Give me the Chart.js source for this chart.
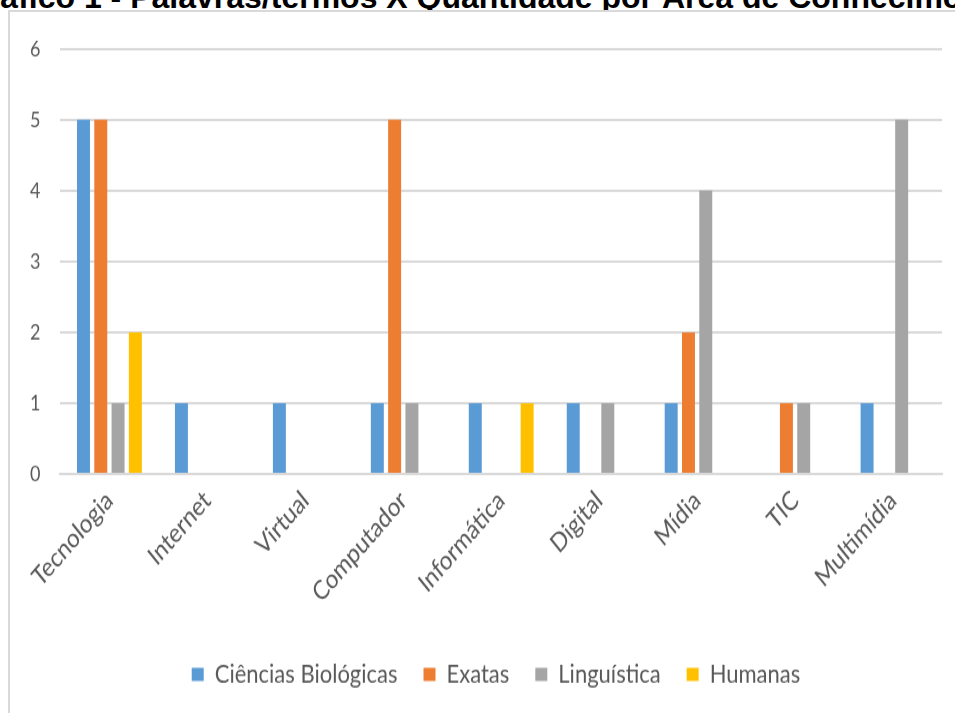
<!DOCTYPE html>
<html>
<head>
<meta charset="utf-8">
<script src="https://cdn.jsdelivr.net/npm/chart.js@4/dist/chart.umd.min.js"></script>
<style>
    body { margin: 0; background: #fff; overflow: hidden; }
    #title {
        position: absolute; left: -37px; top: -19px; white-space: nowrap; line-height: 32px;
        font-family: 'Liberation Sans', Arial, sans-serif; font-weight: bold; font-size: 32px; color: #000;
    }
    #frame {
        position: absolute; left: 8px; top: 10px; width: 960px; height: 720px;
        border: 2px solid #d9d9d9; background: #fff; overflow: hidden;
    }
    /* the original picture is stretched vertically, so the canvas is too */
    #chart { position: absolute; left: 0; top: 0; transform: scaleY(1.2); transform-origin: 0 0; }
</style>
</head>
<body>
<div id="title">Gráfico 1 - Palavras/termos X Quantidade por Área de Conhecimento</div>
<div id="frame"><canvas id="chart" width="945" height="584"></canvas></div>
<script>
// categorias (palavras/termos)
const categories = ['Tecnologia', 'Internet', 'Virtual', 'Computador', 'Informática', 'Digital', 'Mídia', 'TIC', 'Multimídia'];
// quantidade por área de conhecimento
const biologicas = [5, 1, 1, 1, 1, 1, 1, 0, 1];
const exatas = [5, 0, 0, 5, 0, 0, 2, 1, 0];
const linguistica = [1, 0, 0, 1, 0, 1, 4, 1, 5];
const humanas = [2, 0, 0, 0, 1, 0, 0, 0, 0];
const yTicks = [0, 1, 2, 3, 4, 5, 6];

const textColor = '#595959';
const gridColor = '#d9d9d9';
const fontFamily = "Lato, 'Open Sans', sans-serif";

function makeSet(label, data, color) {
    return {
        label,
        data,
        backgroundColor: color,
        borderWidth: 0,
        categoryPercentage: 0.706,
        barPercentage: 0.75,
    };
}

// legend sits a bit right of the centre in the original
const legendShift = {
    id: 'legendShift',
    afterLayout(chart) {
        chart.legend.left += 20;
        chart.legend.right += 20;
    },
};

new Chart(document.getElementById('chart'), {
    type: 'bar',
    data: {
        labels: categories,
        datasets: [
            makeSet('Ciências Biológicas', biologicas, '#5b9bd5'),
            makeSet('Exatas', exatas, '#ed7d31'),
            makeSet('Linguística', linguistica, '#a5a5a5'),
            makeSet('Humanas', humanas, '#ffc000'),
        ],
    },
    options: {
        responsive: false,
        animation: false,
        layout: { padding: { left: 0, right: 13, top: 16, bottom: 11 } },
        plugins: {
            tooltip: { enabled: false },
            legend: {
                position: 'bottom',
                labels: {
                    color: textColor,
                    font: { family: fontFamily, size: 22 },
                    boxWidth: 12,
                    boxHeight: 11,
                    padding: 26,
                },
            },
        },
        scales: {
            x: {
                grid: { display: false, drawTicks: false },
                border: { color: gridColor, width: 2 },
                afterFit: (scale) => {
                    scale.height = 130;
                    scale.paddingLeft = 0;
                },
                ticks: {
                    color: textColor,
                    font: { family: fontFamily, size: 22 },
                    autoSkip: false,
                    maxRotation: 44,
                    minRotation: 44,
                    padding: 9,
                },
            },
            y: {
                min: 0,
                max: 6,
                afterBuildTicks: (axis) => { axis.ticks = yTicks.map((v) => ({ value: v })); },
                grid: { color: gridColor, lineWidth: 2, drawTicks: false },
                border: { display: false },
                ticks: {
                    color: textColor,
                    font: { family: fontFamily, size: 18 },
                    padding: 20,
                },
            },
        },
    },
    plugins: [legendShift],
});
</script>
</body>
</html>
